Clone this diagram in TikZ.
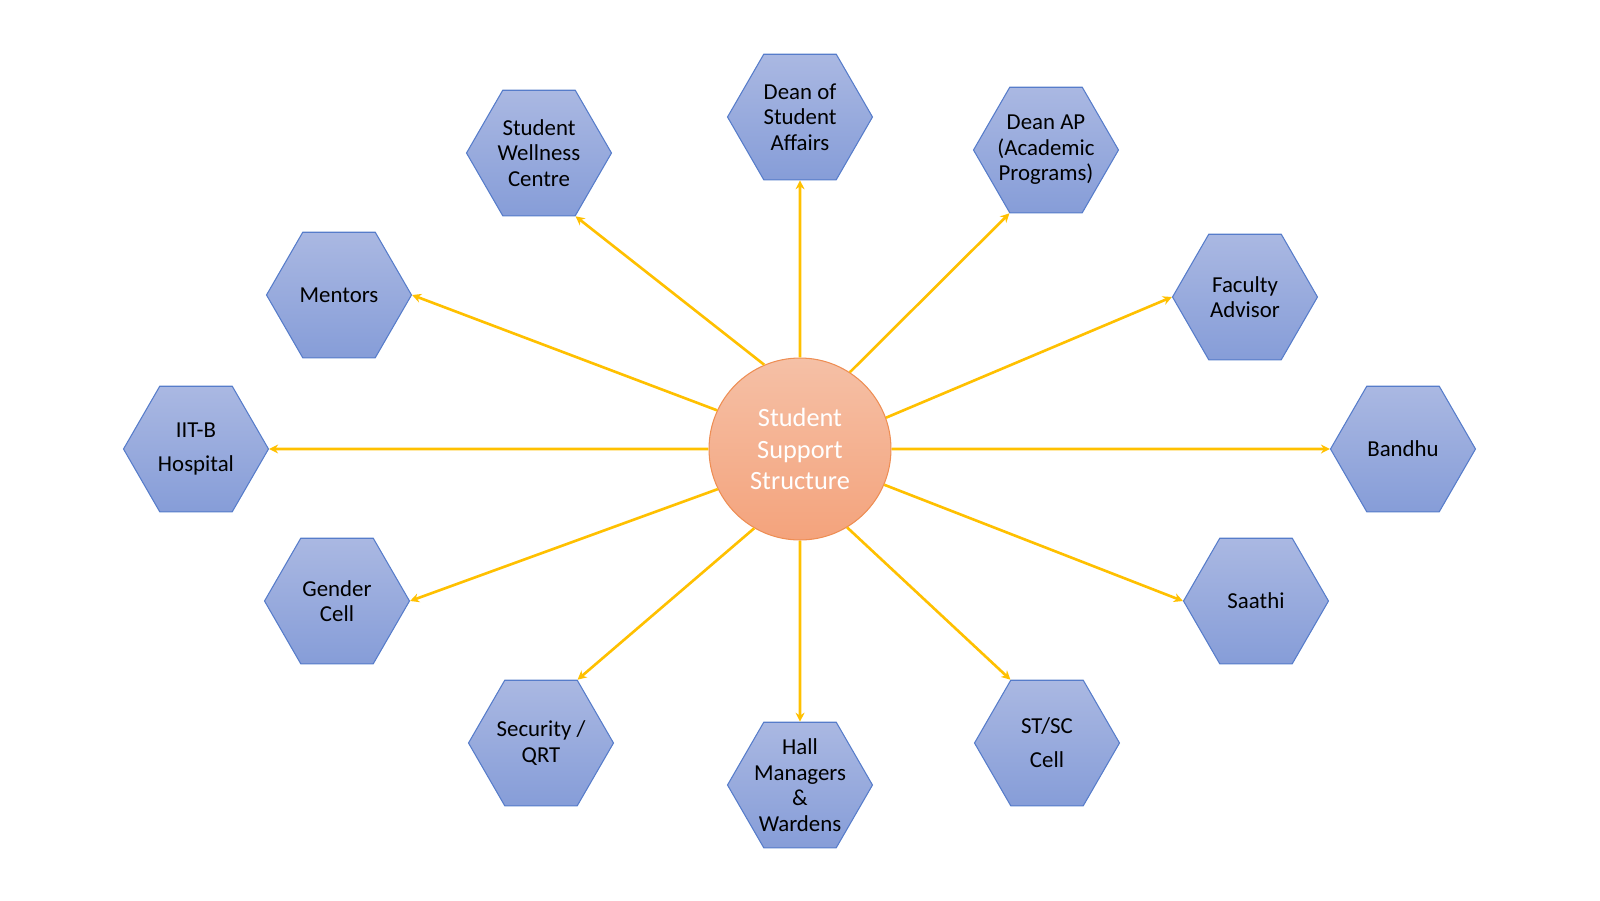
\documentclass[tikz,border=0pt]{standalone}
\usepackage{fontspec}
\setmainfont{Carlito}
\usetikzlibrary{shapes.geometric, arrows.meta}

\definecolor{hexTop}{RGB}{170,184,226}
\definecolor{hexBot}{RGB}{134,157,216}
\definecolor{hexLine}{RGB}{86,124,202}
\definecolor{hubTop}{RGB}{245,192,166}
\definecolor{hubBot}{RGB}{244,163,124}
\definecolor{hubLine}{RGB}{238,142,84}
\definecolor{linkCol}{RGB}{255,192,0}

\begin{document}
\begin{tikzpicture}[x=0.02cm, y=-0.02cm, >={Stealth[length=1.8mm, width=1.8mm]},
    hexnode/.style={regular polygon, regular polygon sides=6, minimum size=2.9cm, inner sep=-5pt,
        draw=hexLine, line width=0.6pt, top color=hexTop, bottom color=hexBot,
        align=center, font=\fontsize{13}{14.5}\selectfont},
    hub/.style={circle, minimum size=3.64cm, inner sep=0pt, draw=hubLine, line width=0.6pt,
        top color=hubTop, bottom color=hubBot, text=white, align=center,
        font=\fontsize{15}{18}\selectfont},
    link/.style={->, draw=linkCol, line width=1.5pt}]
    \useasboundingbox (0,0) rectangle (1600,900);

    % centre
    \node[hub] (ssc) at (800,449) {Student\\Support\\Structure};

    % support units
    \node[hexnode] (dsa)  at (800,117)  {Dean of\\Student\\Affairs};
    \node[hexnode] (swc)  at (539,153)  {Student\\Wellness\\Centre};
    \node[hexnode] (dap)  at (1046,150) {Dean AP\\(Academic\\Programs)};
    \node[hexnode] (men)  at (339,295)  {Mentors};
    \node[hexnode] (fa)   at (1245,297) {Faculty\\Advisor};
    \node[hexnode] (iit)  at (196,449)  {IIT-B\\[5pt]Hospital};
    \node[hexnode] (ban)  at (1403,449) {Bandhu};
    \node[hexnode] (gen)  at (337,601)  {Gender\\Cell};
    \node[hexnode] (saa)  at (1256,601) {Saathi};
    \node[hexnode] (sec)  at (541,743)  {Security /\\QRT};
    \node[hexnode] (hall) at (800,785)  {Hall\\Managers\\\&\\Wardens};
    \node[hexnode] (stsc) at (1047,743) {ST/SC\\[5pt]Cell};

    % links
    \draw[link] (ssc.90)   -- (dsa.south);
    \draw[link] (ssc.113)  -- (swc.-60);
    \draw[link] (ssc.57)   -- (dap.-120);
    \draw[link] (ssc.155)  -- (men.east);
    \draw[link] (ssc.20)   -- (fa.west);
    \draw[link] (ssc.west) -- (iit.east);
    \draw[link] (ssc.east) -- (ban.west);
    \draw[link] (ssc.206)  -- (gen.east);
    \draw[link] (ssc.-23)  -- (saa.west);
    \draw[link] (ssc.-120) -- (sec.60);
    \draw[link] (ssc.south) -- (hall.north);
    \draw[link] (ssc.-59)  -- (stsc.120);
\end{tikzpicture}
\end{document}
